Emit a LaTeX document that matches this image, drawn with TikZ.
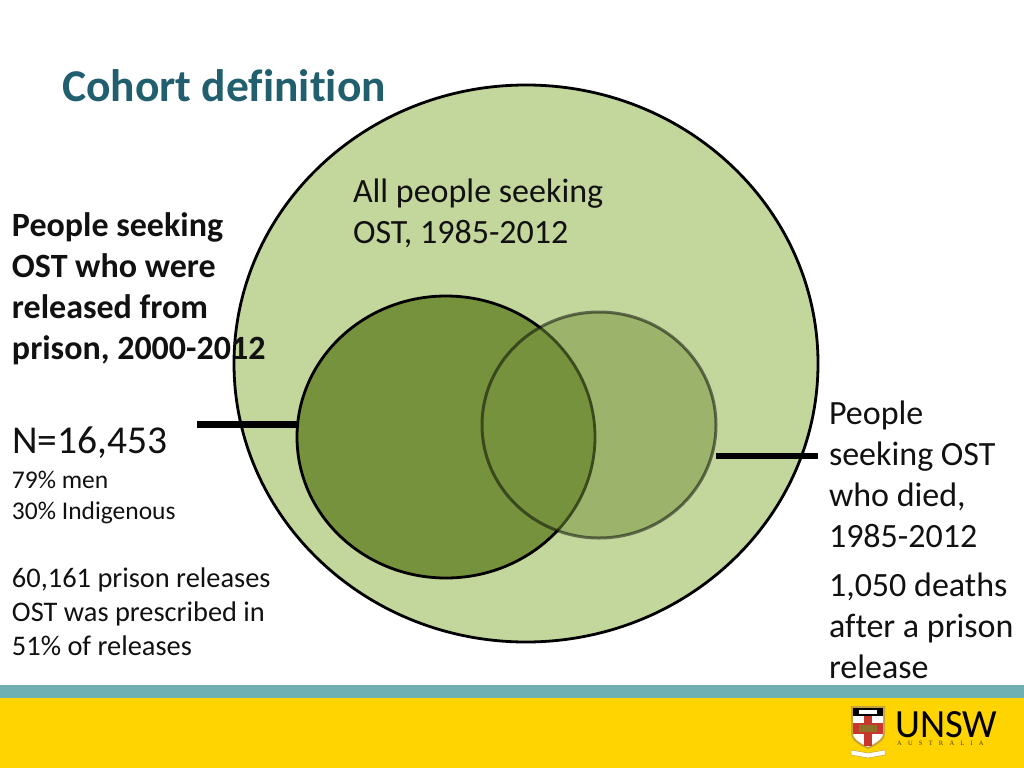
\documentclass[tikz,border=0pt]{standalone}
\usepackage{fontspec}
\setmainfont{Carlito}[Ligatures=NoCommon]
\newfontfamily\logofont{Liberation Serif}
\usetikzlibrary{shapes.geometric}
\definecolor{titleteal}{HTML}{215F6F}
\definecolor{bigfill}{HTML}{C3D69B}
\definecolor{darkfill}{HTML}{76923C}
\definecolor{barteal}{HTML}{6FB1B3}
\definecolor{baryellow}{HTML}{FFD400}
\definecolor{txt}{HTML}{111111}
\definecolor{shieldred}{HTML}{C8372D}
\definecolor{shieldgold}{HTML}{C9A13B}
\tikzset{
  venn/.style={ellipse,draw=black,line width=2.8pt,inner sep=0pt,outer sep=0pt},
  leader/.style={line width=6.5pt,black},
  txtblock/.style={anchor=north west,inner sep=0pt,outer sep=0pt,align=left,text=txt},
  big/.style={font=\fontsize{34}{41}\selectfont},
  bigb/.style={font=\fontsize{34}{41}\selectfont\bfseries},
}
\begin{document}
\begin{tikzpicture}[x=1pt,y=-1pt]
\useasboundingbox (0,0) rectangle (1024,768);
\fill[white] (0,0) rectangle (1024,768);
\fill[barteal] (0,685) rectangle (1024,698);
\fill[baryellow] (0,698) rectangle (1024,768);
% Venn
\node[venn,fill=bigfill,minimum width=584pt,minimum height=557pt] (bigc) at (526,363.5) {};
\node[venn,fill=darkfill,minimum width=298pt,minimum height=282pt] (darkc) at (446,437) {};
\path[fill=darkfill,fill opacity=0.5,draw=black,draw opacity=0.5,line width=3pt]
  (599,425) ellipse [x radius=117,y radius=113];
% leaders
\coordinate (leftend) at (197,424.5);
\coordinate (rightstart) at (716,456);
\coordinate (rightend) at (818,456);
\draw[leader] (leftend) -- (darkc.west |- leftend);
\draw[leader] (rightstart) -- (rightend);
% text
\node[anchor=base west,inner sep=0pt,text=titleteal,font=\fontsize{45.5}{50}\selectfont\bfseries] (title) at (62,101) {Cohort definition};
\node[txtblock,big] (allp) at (353,179) {All people seeking\\OST, 1985-2012};
\node[txtblock,bigb] (prison) at (12,212.5) {People seeking\\OST who were\\released from\\prison, 2000-2012};
\node[anchor=base west,inner sep=0pt,text=txt,font=\fontsize{39.5}{44}\selectfont] (nval) at (12,453) {N=16,453};
\node[txtblock,font=\fontsize{25.5}{31}\selectfont] (demog) at (12,471) {79\% men\\30\% Indigenous};
\node[txtblock,font=\fontsize{28.4}{34}\selectfont] (rel) at (12,567.5) {60,161 prison releases\\OST was prescribed in\\51\% of releases};
\node[txtblock,big] (died) at (829,401) {People\\seeking OST\\who died,\\1985-2012};
\node[txtblock,big] (deaths) at (829,572.5) {1,050 deaths\\after a prison\\release};
% logo
\fill[shieldgold] (851,706) -- (885,706) -- (885,733) .. controls (885,742) and (874,746) .. (868,749) .. controls (862,746) and (851,742) .. (851,733) -- cycle;
\fill[white] (853,708) -- (883,708) -- (883,733) .. controls (883,740) and (873,744) .. (868,747) .. controls (863,744) and (853,740) .. (853,733) -- cycle;
\fill[black] (853,708) rectangle (883,716);
\fill[shieldred] (864,716) rectangle (872,746);
\fill[shieldred] (853,723) rectangle (883,734);
\fill[shieldgold!70!black] (859,725) rectangle (877,732);
\fill[white] (859,710) rectangle (877,714);
\fill[white,draw=shieldgold,line width=0.5pt] (851,750) -- (868,753) -- (885,750) -- (885,755) -- (868,758) -- (851,755) -- cycle;
\node[anchor=base west,inner sep=0pt,xscale=0.97,text depth=0pt,text height=26pt,font=\fontsize{40}{44}\selectfont,text=black] (unsw) at (895,737) {UNSW};
\node[anchor=base west,inner sep=0pt,font=\fontsize{6.5}{8}\logofont,text=black!70!baryellow] (aus) at (897,745.5) {A\hspace{6.2pt}U\hspace{6.2pt}S\hspace{6.2pt}T\hspace{6.2pt}R\hspace{6.2pt}A\hspace{6.2pt}L\hspace{6.2pt}I\hspace{6.2pt}A};
\end{tikzpicture}
\end{document}
